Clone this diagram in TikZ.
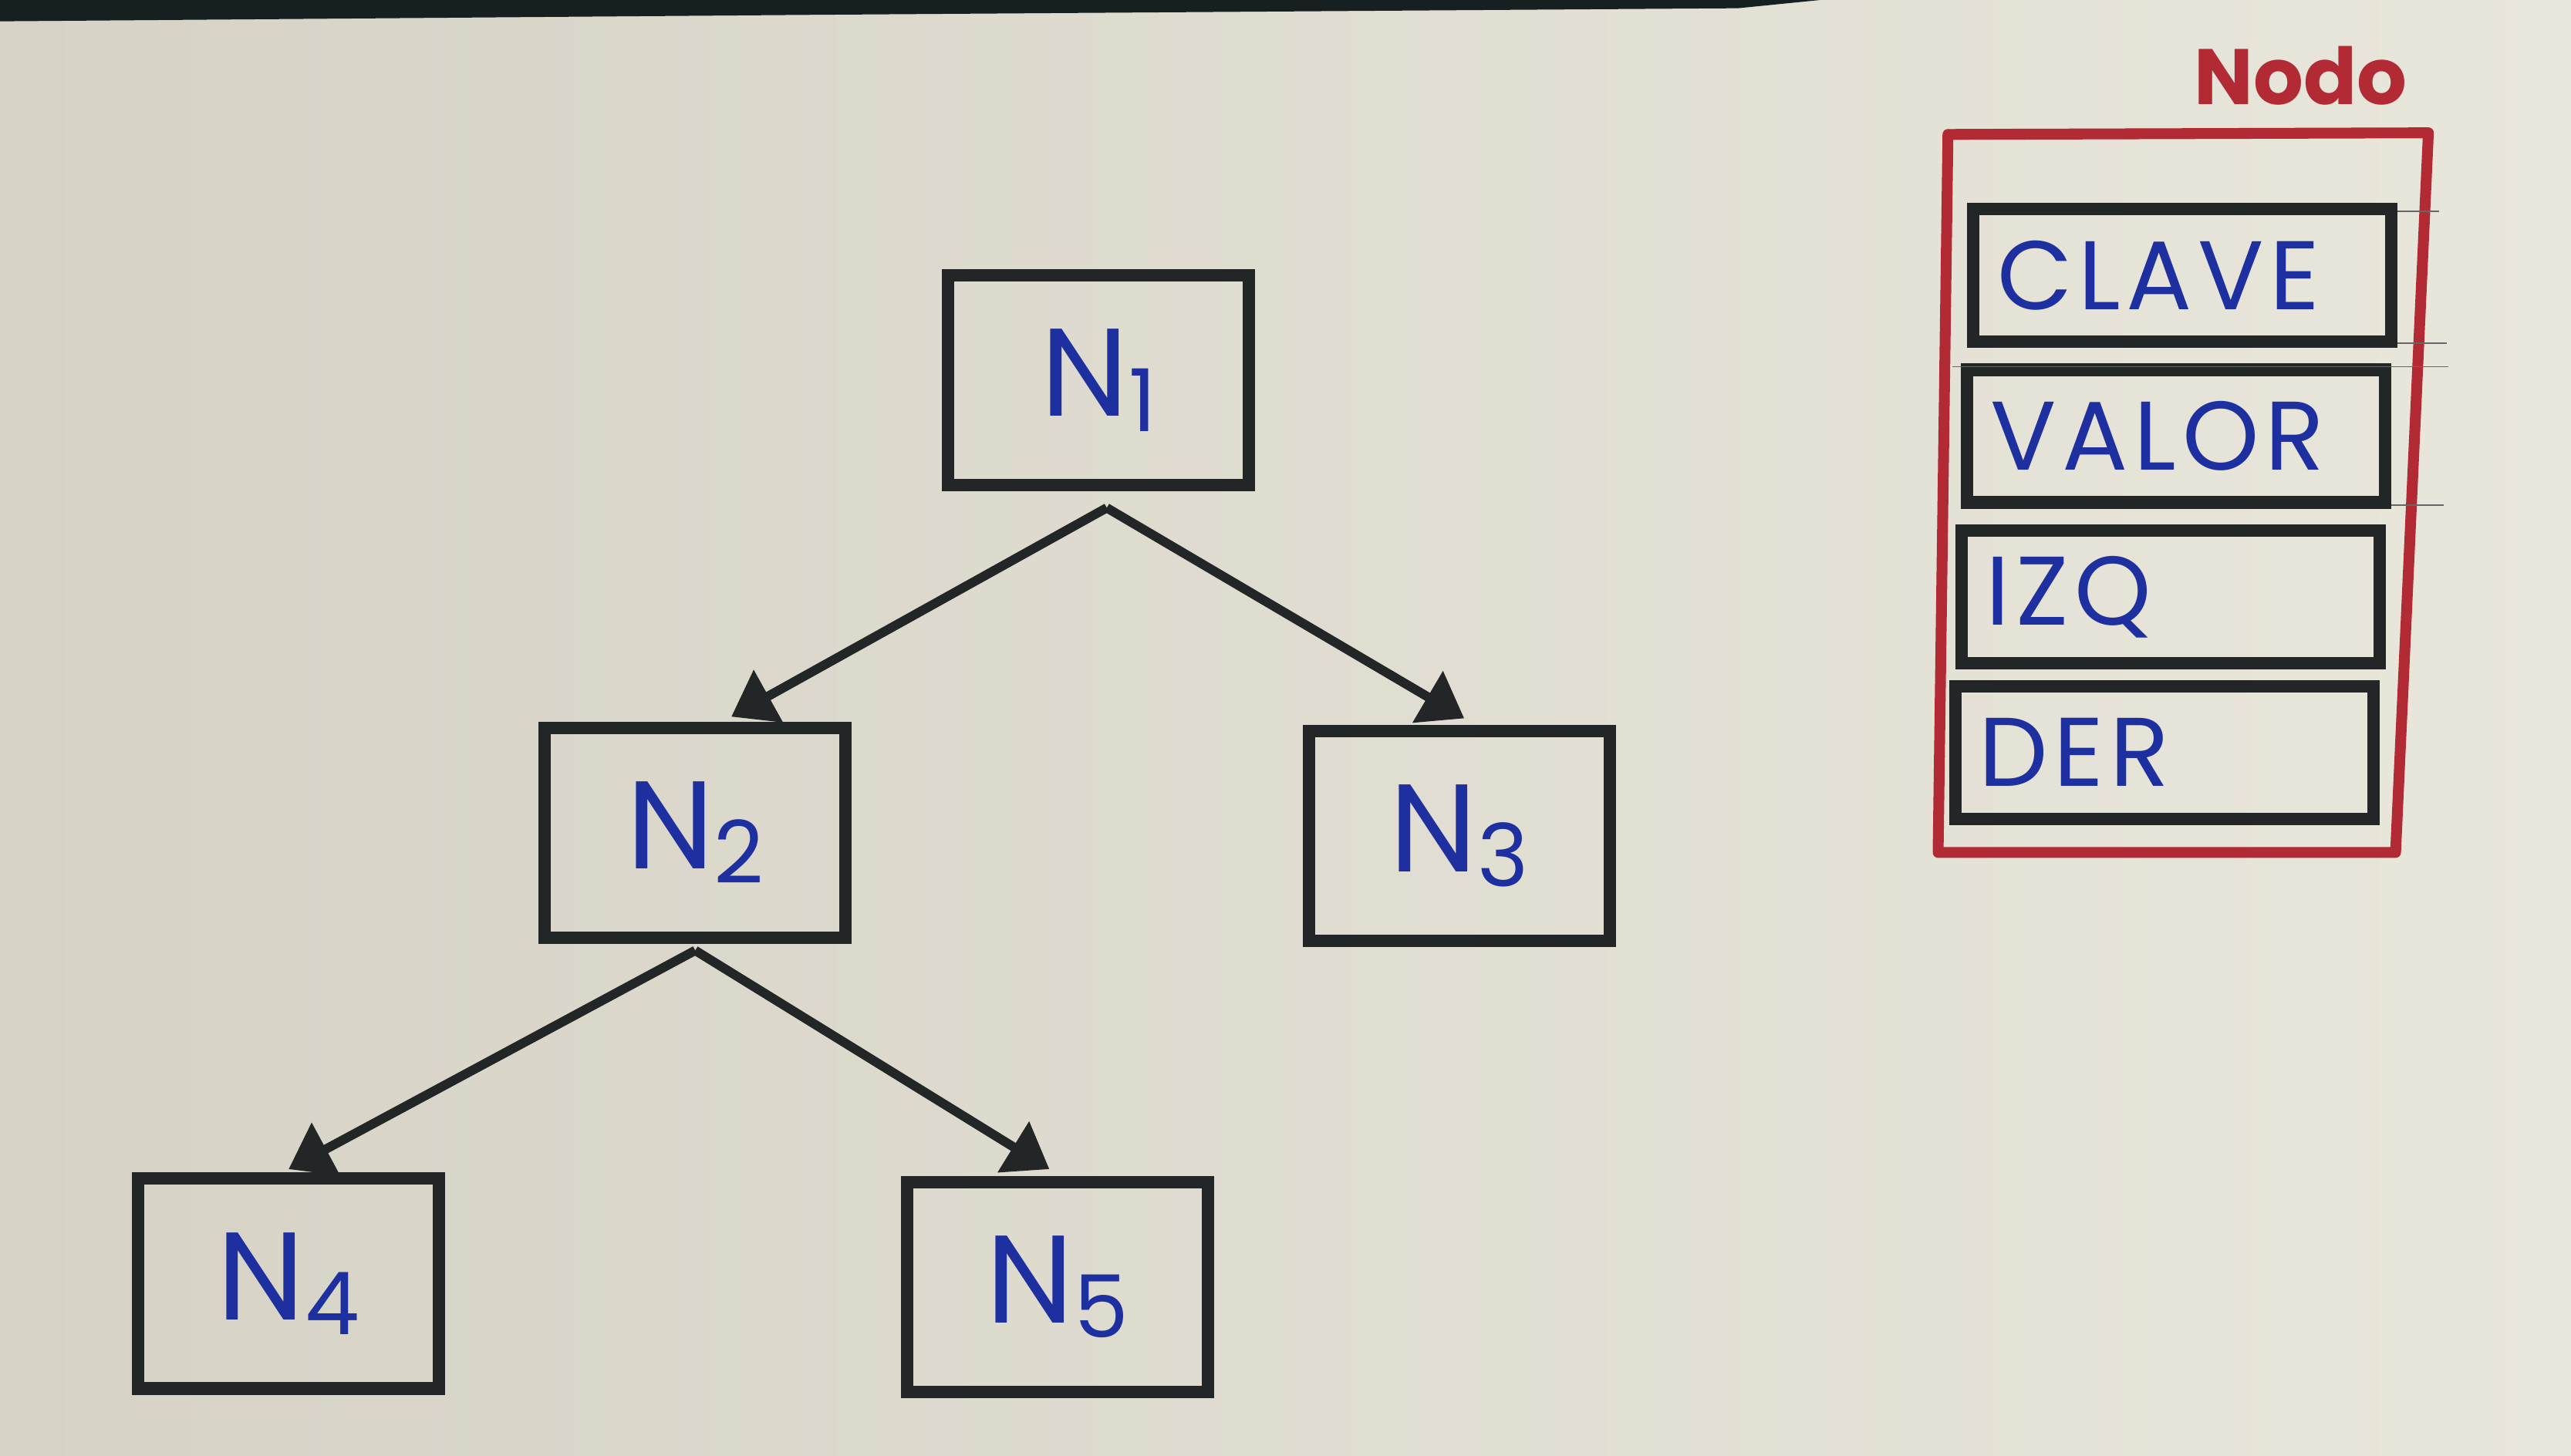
\documentclass[tikz,border=0pt]{standalone}
\usepackage{fontspec}
\setmainfont{Poppins}
\newfontfamily\hand{Poppins}[LetterSpace=6]
\usetikzlibrary{arrows.meta,calc}
\definecolor{paperL}{RGB}{214,210,198}
\definecolor{paperR}{RGB}{233,230,219}
\definecolor{ink}{RGB}{35,38,38}
\definecolor{pen}{RGB}{30,48,160}
\definecolor{redpen}{RGB}{178,42,52}
\definecolor{band}{RGB}{22,32,32}
\newcommand\subdig[1]{\raisebox{-0.12em}{\fontsize{32}{32}\selectfont #1}}
\begin{document}
\begin{tikzpicture}[x=0.021256cm,y=-0.021256cm,
  treebox/.style={draw=ink,line width=4.6pt,minimum width=3.9cm,minimum height=2.72cm,inner sep=0pt,text=pen,font=\hand\fontsize{46}{50}\selectfont},
  field/.style={draw=ink,line width=4.6pt,minimum width=5.42cm,minimum height=1.72cm,text width=4.8cm,align=left,inner xsep=0.31cm,inner ysep=0pt,text=pen,font=\hand\fontsize{36}{40}\selectfont},
  link/.style={draw=ink,line width=3.4pt,-{Triangle[width=0.75cm,length=0.55cm]}},
  hair/.style={draw=ink!70,line width=0.5pt}]
\shade[left color=paperL,right color=paperR] (0,0) rectangle (1568,888);
\fill[band] (0,0) -- (1110,0) -- (1060,5) -- (500,9) -- (0,13) -- cycle;
% tree
\node[treebox] (n1) at (670,232) {N\subdig{1}};
\node[treebox] (n2) at (424,508) {N\subdig{2}};
\node[treebox] (n3) at (890,510) {N\subdig{3}};
\node[treebox] (n4) at (176,783) {N\subdig{4}};
\node[treebox] (n5) at (645,785) {N\subdig{5}};
\draw[link] ($(n1.south)+(5,10)$) -- ($(n2.north)+(22,-3)$);
\draw[link] ($(n1.south)+(5,10)$) -- ($(n3.north)+(3,-4)$);
\draw[link] ($(n2.south)+(0,4)$) -- ($(n4.north)+(0,-2)$);
\draw[link] ($(n2.south)+(0,4)$) -- ($(n5.north)+(-5,-4)$);
% Nodo structure
\coordinate (ra) at (1188,82);
\coordinate (rb) at (1481,81);
\coordinate (rc) at (1461,520);
\coordinate (rd) at (1182,520);
\draw[redpen,line width=4pt,line join=round] (ra) -- (rb) -- (rc) -- (rd) -- cycle;
\node[text=redpen,font=\bfseries\fontsize{29}{32}\selectfont] (title) at (1403,46) {Nodo};
\node[field] (clave) at (1331,168) {CLAVE};
\node[field] (valor) at (1327,266) {VALOR};
\node[field] (izq) at (1324,364) {IZQ};
\node[field] (der) at (1320,459) {DER};
\draw[hair] ($(clave.north east)+(0,5)$) -- ++(25,0);
\draw[hair] ($(clave.south east)+(0,-3)$) -- ++(30,0);
\draw[hair] ($(valor.north west)+(-5,2)$) -- ($(valor.north east)+(35,2)$);
\draw[hair] ($(valor.south east)+(0,-2)$) -- ++(32,0);
\end{tikzpicture}
\end{document}
